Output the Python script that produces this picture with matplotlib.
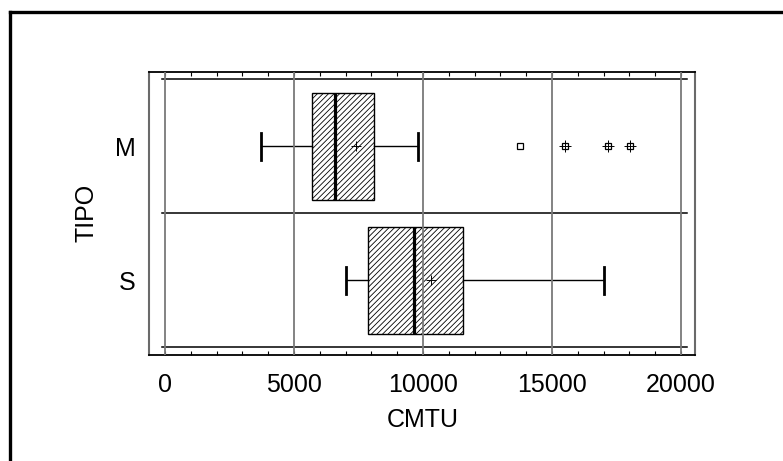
import matplotlib
matplotlib.use("Agg")
import matplotlib.pyplot as plt
from matplotlib.lines import Line2D
from matplotlib.ticker import MultipleLocator

# ---- data ----
categories = ["S", "M"]
whislo = [7020, 3730]
q1 = [7870, 5700]
med = [9640, 6590]
mean = [10320, 7420]
q3 = [11550, 8110]
whishi = [17010, 9790]
m_outliers_square = [13750]
m_outliers_boxplus = [15500, 17180, 18010]
xticks = [0, 5000, 10000, 15000, 20000]

plt.rcParams['font.family'] = ['Liberation Sans', 'DejaVu Sans']
plt.rcParams['hatch.linewidth'] = 0.6

fig = plt.figure(figsize=(7.83, 4.61), dpi=100)
ax = fig.add_axes([0.1907, 0.2299, 0.6973, 0.6146])

stats = []
for i, c in enumerate(categories):
    stats.append(dict(label=c, whislo=whislo[i], q1=q1[i], med=med[i],
                      mean=mean[i], q3=q3[i], whishi=whishi[i], fliers=[]))

positions = list(range(len(categories)))
bp = ax.bxp(stats, positions=positions, vert=False, widths=0.8,
            patch_artist=True, showmeans=True, capwidths=0.2,
            boxprops=dict(facecolor='white', edgecolor='black', linewidth=1.0, hatch='//////'),
            medianprops=dict(color='black', linewidth=2.3, zorder=5),
            whiskerprops=dict(color='black', linewidth=1.0),
            capprops=dict(color='black', linewidth=2.0),
            meanprops=dict(marker='+', markeredgecolor='black', markersize=7, markeredgewidth=0.7, zorder=6),
            zorder=3)

m_idx = categories.index("M")
ax.plot(m_outliers_square, [m_idx] * len(m_outliers_square), linestyle='none',
        marker='s', markersize=5, markerfacecolor='white', markeredgecolor='black',
        markeredgewidth=0.9, zorder=4)
ax.plot(m_outliers_boxplus, [m_idx] * len(m_outliers_boxplus), linestyle='none',
        marker='s', markersize=5, markerfacecolor='white', markeredgecolor='black',
        markeredgewidth=0.9, zorder=4)
ax.plot(m_outliers_boxplus, [m_idx] * len(m_outliers_boxplus), linestyle='none',
        marker='+', markersize=8, markeredgecolor='black',
        markeredgewidth=0.7, zorder=5)

ax.set_xlim(-608, 20554)
ax.set_ylim(-0.557, len(categories) - 1 + 0.557)

# grid lines
for xv in xticks:
    ax.axvline(xv, color='#7a7a7a', linewidth=1.3, zorder=3.5)
for k in range(len(categories) + 1):
    ax.plot([-120, 20230], [k - 0.5, k - 0.5], color='black', linewidth=1.1, zorder=2)

ax.set_xticks(xticks)
ax.set_xticklabels([str(v) for v in xticks])
ax.xaxis.set_minor_locator(MultipleLocator(1000))
ax.tick_params(axis='x', which='both', direction='in', top=True, bottom=True,
               length=3, width=0.8, color='black', labelsize=18, pad=13)
ax.set_yticks(positions)
ax.set_yticklabels(categories)
ax.tick_params(axis='y', which='both', length=0, labelsize=18, pad=10)

ax.set_xlabel("CMTU", fontsize=18, labelpad=8)
ax.set_ylabel("TIPO", fontsize=18, labelpad=12)

for s in ['top', 'bottom']:
    ax.spines[s].set_color('black')
    ax.spines[s].set_linewidth(1.3)
for s in ['left', 'right']:
    ax.spines[s].set_color('#6a6a6a')
    ax.spines[s].set_linewidth(1.5)

# outer figure border (open at right/bottom)
x0 = 9.5 / 783
y0 = 1 - 12.5 / 461
fig.add_artist(Line2D([x0, x0], [-0.1, y0], transform=fig.transFigure, color='black', linewidth=2.4))
fig.add_artist(Line2D([x0, 1.1], [y0, y0], transform=fig.transFigure, color='black', linewidth=2.4))

fig.savefig("out.png", dpi=100, facecolor='white')
